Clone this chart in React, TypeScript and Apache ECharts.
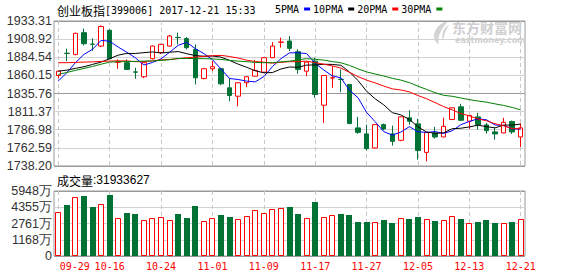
import React, { useEffect, useRef } from "react";
import * as echarts from "echarts";

// ---------- data ----------
const dates: string[] = [
  "2017-09-29",
  "2017-10-09", "2017-10-10", "2017-10-11", "2017-10-12", "2017-10-13",
  "2017-10-16", "2017-10-17", "2017-10-18", "2017-10-19", "2017-10-20",
  "2017-10-23", "2017-10-24", "2017-10-25", "2017-10-26", "2017-10-27",
  "2017-10-30", "2017-10-31",
  "2017-11-01", "2017-11-02", "2017-11-03",
  "2017-11-06", "2017-11-07", "2017-11-08", "2017-11-09", "2017-11-10",
  "2017-11-13", "2017-11-14", "2017-11-15", "2017-11-16", "2017-11-17",
  "2017-11-20", "2017-11-21", "2017-11-22", "2017-11-23", "2017-11-24",
  "2017-11-27", "2017-11-28", "2017-11-29", "2017-11-30",
  "2017-12-01",
  "2017-12-04", "2017-12-05", "2017-12-06", "2017-12-07", "2017-12-08",
  "2017-12-11", "2017-12-12", "2017-12-13", "2017-12-14", "2017-12-15",
  "2017-12-18", "2017-12-19", "2017-12-20", "2017-12-21",
];

// [open, close, low, high]
const ohlc: number[][] = [
  [1860.0, 1865.8, 1856.4, 1866.2],
  [1890.0, 1889.5, 1879.3, 1896.1],
  [1888.4, 1916.7, 1887.0, 1917.6],
  [1917.6, 1902.8, 1900.5, 1923.1],
  [1902.3, 1901.9, 1893.0, 1910.0],
  [1899.6, 1925.8, 1898.2, 1927.5],
  [1920.8, 1882.6, 1882.0, 1922.1],
  [1877.8, 1878.0, 1869.1, 1881.6],
  [1877.2, 1868.2, 1867.5, 1881.6],
  [1864.8, 1864.5, 1855.6, 1870.4],
  [1858.3, 1877.2, 1856.4, 1877.6],
  [1882.6, 1899.6, 1881.6, 1900.2],
  [1890.7, 1901.9, 1889.0, 1902.5],
  [1899.6, 1913.1, 1899.0, 1914.5],
  [1911.2, 1910.9, 1901.9, 1917.7],
  [1909.6, 1897.4, 1895.1, 1911.7],
  [1895.1, 1856.9, 1847.9, 1901.9],
  [1856.0, 1869.1, 1854.6, 1869.5],
  [1869.1, 1871.8, 1865.8, 1879.3],
  [1869.1, 1848.8, 1847.0, 1870.0],
  [1843.4, 1833.1, 1825.4, 1856.9],
  [1832.1, 1850.2, 1818.6, 1850.6],
  [1850.2, 1858.3, 1844.3, 1858.7],
  [1859.1, 1866.8, 1858.5, 1880.6],
  [1864.5, 1883.9, 1863.5, 1884.3],
  [1883.9, 1899.6, 1883.5, 1905.0],
  [1904.7, 1905.0, 1897.4, 1910.9],
  [1906.3, 1896.5, 1892.8, 1913.1],
  [1892.0, 1868.1, 1862.3, 1895.1],
  [1865.8, 1878.0, 1859.1, 1878.4],
  [1879.3, 1834.4, 1830.0, 1883.9],
  [1820.0, 1860.0, 1796.2, 1860.4],
  [1856.6, 1856.9, 1843.4, 1872.6],
  [1854.9, 1854.6, 1837.5, 1868.1],
  [1847.9, 1795.3, 1794.5, 1848.5],
  [1789.5, 1783.5, 1781.4, 1804.3],
  [1781.4, 1761.5, 1759.2, 1793.9],
  [1762.5, 1793.9, 1761.8, 1794.6],
  [1793.9, 1788.1, 1786.2, 1795.3],
  [1781.4, 1771.4, 1765.6, 1792.6],
  [1772.8, 1804.3, 1771.5, 1805.0],
  [1803.0, 1798.4, 1793.9, 1813.2],
  [1794.9, 1759.2, 1746.7, 1801.6],
  [1756.5, 1783.5, 1744.4, 1784.0],
  [1782.7, 1777.3, 1775.0, 1790.8],
  [1777.3, 1791.6, 1776.8, 1803.0],
  [1800.7, 1816.5, 1800.2, 1817.0],
  [1817.8, 1799.7, 1799.3, 1821.9],
  [1798.4, 1806.1, 1788.1, 1806.6],
  [1804.3, 1793.9, 1787.2, 1809.7],
  [1793.5, 1785.8, 1781.8, 1796.2],
  [1784.1, 1781.4, 1773.7, 1789.5],
  [1782.7, 1797.0, 1782.3, 1803.0],
  [1798.0, 1784.1, 1781.4, 1799.3],
  [1777.3, 1789.5, 1763.9, 1795.3],
];

// volume, in 万
const volumes: number[] = [
  3896, 4623, 5390, 5420, 4424, 4693, 5520, 3299, 3827, 3727,
  3099, 3299, 3398, 3099, 3727, 3329, 4524, 3000, 3299, 3627,
  3428, 3199, 3528, 4095, 3797, 4195, 4295, 4424, 3727, 3299,
  4823, 3398, 3627, 3727, 3627, 2930, 2930, 2900, 3129, 2831,
  3299, 3229, 3428, 3199, 3030, 3099, 3528, 3229, 2801, 2930,
  3129, 2831, 2831, 2930, 3193,
];

const ma5: number[] = [
  1852.6, 1863.7, 1877.2, 1888.4, 1895.3, 1907.3, 1906.0, 1898.2, 1891.3, 1883.8,
  1874.1, 1877.5, 1882.3, 1891.3, 1900.5, 1904.6, 1896.0, 1889.5, 1881.2, 1868.8,
  1855.9, 1854.6, 1852.4, 1851.4, 1858.5, 1871.8, 1882.7, 1890.4, 1890.6, 1889.4,
  1876.4, 1867.4, 1859.5, 1856.8, 1840.2, 1830.1, 1810.4, 1797.8, 1784.5, 1779.7,
  1783.8, 1791.2, 1784.3, 1783.4, 1784.5, 1782.0, 1785.6, 1793.7, 1798.2, 1801.6,
  1800.4, 1793.4, 1792.8, 1788.4, 1787.6,
];
const ma10: number[] = [
  1865.8, 1867.2, 1869.5, 1871.8, 1874.9, 1878.0, 1882.6, 1887.4, 1889.7, 1889.6,
  1890.7, 1891.7, 1890.3, 1891.3, 1892.2, 1889.3, 1886.8, 1885.9, 1886.2, 1884.7,
  1880.3, 1875.3, 1871.0, 1866.3, 1863.6, 1863.9, 1868.7, 1871.4, 1871.0, 1874.0,
  1874.1, 1875.1, 1874.9, 1873.7, 1864.8, 1853.2, 1838.9, 1828.6, 1820.6, 1810.0,
  1807.0, 1800.8, 1791.0, 1783.9, 1782.1, 1782.9, 1788.4, 1789.0, 1790.8, 1793.1,
  1791.2, 1789.5, 1793.3, 1793.3, 1794.6,
];
const ma20: number[] = [
  1877.2, 1877.2, 1877.6, 1878.0, 1878.3, 1879.0, 1879.4, 1879.6, 1879.6, 1878.6,
  1878.6, 1879.7, 1881.0, 1881.6, 1882.6, 1883.9, 1884.7, 1885.7, 1886.6, 1887.1,
  1885.5, 1883.5, 1880.6, 1878.8, 1877.9, 1876.6, 1877.7, 1878.6, 1878.6, 1879.3,
  1877.2, 1875.2, 1872.9, 1870.0, 1864.2, 1858.5, 1853.8, 1850.0, 1845.8, 1842.0,
  1840.5, 1837.9, 1833.0, 1828.8, 1823.5, 1818.1, 1813.7, 1808.8, 1805.7, 1801.5,
  1799.1, 1795.1, 1792.2, 1788.6, 1788.3,
];
const ma30: number[] = [
  1861.4, 1864.1, 1866.8, 1869.5, 1872.2, 1875.2, 1878.0, 1878.6, 1878.6, 1879.0,
  1879.3, 1879.6, 1880.3, 1881.2, 1882.9, 1882.9, 1882.7, 1882.6, 1882.3, 1881.6,
  1880.3, 1879.3, 1878.6, 1877.6, 1877.2, 1877.2, 1878.3, 1879.3, 1881.0, 1882.7,
  1881.7, 1880.7, 1878.7, 1877.1, 1873.6, 1868.8, 1864.8, 1862.0, 1859.3, 1856.2,
  1853.8, 1850.4, 1845.6, 1841.3, 1836.9, 1833.3, 1832.0, 1829.7, 1827.5, 1825.7,
  1824.1, 1821.8, 1819.7, 1817.0, 1813.8,
];

const priceTickLabels: string[] = [
  "1738.20", "1762.59", "1786.98", "1811.37", "1835.76",
  "1860.15", "1884.54", "1908.92", "1933.31",
];
const volTickLabels: string[] = ["0", "1168万", "2761万", "4355万", "5948万"];

const PRICE_MIN = 1738.2;
const PRICE_MAX = 1933.31;
const VOL_MIN = -425;
const VOL_MAX = 5948;

const titleName = "创业板指";
const titleRest = "[399006] 2017-12-21 15:33";
const volTitle = "成交量";
const volTotal = ":31933627";
const maNames = ["5PMA", "10PMA", "20PMA", "30PMA"];

// ---------- styles ----------
const RED = "#ff0000";
const GREEN = "#007235";
const MONO = "DejaVu Sans Mono";
const SANS = "Liberation Sans";
const CJK = "Noto Sans CJK SC";
const LIGHT = "#d2d2d2";
const DARK = "#999999";

const LOGO_PATH =
  "M17,0 C8,3 2,9 2,16 C2,20 4,23 7,24 C5,18 8,10 17,0 Z M11,12 C12,8 15,6 17,5 C14,10 12,14 11,21 C10,18 10,15 11,12 Z";

export default function App() {
  const ref = useRef<HTMLDivElement>(null);

  useEffect(() => {
    if (!ref.current) return;
    try {
      echarts.graphic.registerShape(
        "emlogo",
        (echarts.graphic as any).extendPath(LOGO_PATH, {})
      );
    } catch (e) {
      // ignore
    }
    const chart = echarts.init(ref.current, undefined, { renderer: "svg" });

    const volData = volumes.map((v, i) => [i, v, ohlc[i][1] >= ohlc[i][0] ? 1 : 0]);
    const labelFmt = (value: string, index: number) => {
      const s = String(value).slice(5);
      return index === 0 ? `{first|${s}}` : s;
    };

    const xSplit = {
      show: true,
      interval: 5,
      alignWithLabel: true,
      lineStyle: { color: "#c8c8c8", type: [4, 3], width: 1 },
    };

    const option: any = {
      animation: false,
      backgroundColor: "#ffffff",
      title: [
        {
          left: 57,
          top: 4,
          padding: 0,
          text: `{cn|${titleName}}{en|${titleRest}}`,
          textStyle: {
            fontWeight: "normal",
            rich: {
              cn: { fontFamily: CJK, fontSize: 12, color: "#000", fontWeight: "normal" },
              en: { fontFamily: MONO, fontSize: 10, color: "#000", fontWeight: "normal" },
            },
          },
        },
        {
          left: 57,
          top: 174,
          padding: 0,
          text: `{cn|${volTitle}}{en|${volTotal}}`,
          textStyle: {
            fontWeight: "normal",
            rich: {
              cn: { fontFamily: CJK, fontSize: 12, color: "#000", fontWeight: "normal" },
              en: { fontFamily: SANS, fontSize: 12, color: "#000", fontWeight: "normal" },
            },
          },
        },
      ],
      legend: {
        left: 275,
        top: 4,
        padding: 0,
        align: "right",
        icon: "rect",
        itemWidth: 6,
        itemHeight: 3,
        itemGap: 3,
        selectedMode: false,
        data: maNames,
        textStyle: { fontFamily: MONO, fontSize: 10, color: "#000", padding: 0 },
      },
      grid: [
        {
          left: 54, right: 53, top: 21, height: 145,
          show: true, borderColor: DARK, borderWidth: 1,
          outerBoundsMode: "none",
        },
        {
          left: 54, right: 53, top: 191, height: 65,
          show: true, borderColor: DARK, borderWidth: 1,
          outerBoundsMode: "none",
        },
      ],
      xAxis: [
        {
          type: "category", gridIndex: 0, data: dates, boundaryGap: true,
          axisLine: { show: false }, axisTick: { show: false },
          axisLabel: { show: false }, splitLine: xSplit,
        },
        {
          type: "category", gridIndex: 1, data: dates, boundaryGap: true,
          axisLine: { show: false }, axisTick: { show: false },
          axisLabel: {
            show: true, interval: 5, margin: 5, color: RED,
            fontFamily: MONO, fontSize: 10, formatter: labelFmt,
            rich: {
              first: { padding: [0, 0, 0, 33], color: RED, fontFamily: MONO, fontSize: 10 },
            },
          },
          splitLine: xSplit,
        },
      ],
      yAxis: [
        {
          type: "value", gridIndex: 0, min: PRICE_MIN, max: PRICE_MAX,
          interval: (PRICE_MAX - PRICE_MIN) / 8,
          axisLine: { show: false }, axisTick: { show: false },
          axisLabel: {
            margin: 2, color: "#333", fontFamily: SANS, fontSize: 12.5,
            showMinLabel: true, showMaxLabel: true,
            formatter: (_v: number, i: number) => priceTickLabels[i] ?? "",
          },
          splitLine: {
            show: true,
            lineStyle: {
              width: 1,
              color: [DARK, LIGHT, LIGHT, LIGHT, DARK, LIGHT, LIGHT, LIGHT, DARK],
            },
          },
        },
        {
          type: "value", gridIndex: 1, min: VOL_MIN, max: VOL_MAX,
          interval: (VOL_MAX - VOL_MIN) / 4,
          axisLine: { show: false }, axisTick: { show: false },
          axisLabel: {
            margin: 2, color: "#333", fontFamily: SANS, fontSize: 12.5,
            showMinLabel: true, showMaxLabel: true,
            formatter: (_v: number, i: number) => volTickLabels[i] ?? "",
          },
          splitLine: {
            show: true,
            lineStyle: { width: 1, color: [DARK, LIGHT, LIGHT, LIGHT, DARK] },
          },
        },
      ],
      graphic: [
        {
          type: "emlogo", x: 432, y: 20, scaleX: 1, scaleY: 1, z: 0,
          style: { fill: "#d4d4d4" },
        },
        {
          type: "text", x: 452, y: 20, z: 0,
          style: {
            text: "东方财富网", fill: "#cfcfcf",
            font: `bold 14px "${CJK}"`,
          },
        },
        {
          type: "text", x: 455, y: 36, z: 0,
          style: {
            text: "eastmoney.com", fill: "#cfcfcf",
            font: `bold 8px "DejaVu Sans"`,
          },
        },
      ],
      series: [
        {
          type: "candlestick", name: "K", xAxisIndex: 0, yAxisIndex: 0,
          data: ohlc.map((d) => [d[0], d[1], d[2], d[3]]),
          barWidth: 5, z: 2,
          itemStyle: {
            color: "#ffffff", color0: GREEN,
            borderColor: RED, borderColor0: GREEN, borderWidth: 1,
          },
        },
        {
          type: "line", name: maNames[0], xAxisIndex: 0, yAxisIndex: 0, data: ma5,
          symbol: "none", z: 3, color: "#0000ff",
          lineStyle: { width: 1, color: "#0000ff" }, itemStyle: { color: "#0000ff" },
        },
        {
          type: "line", name: maNames[1], xAxisIndex: 0, yAxisIndex: 0, data: ma10,
          symbol: "none", z: 3, color: "#000000",
          lineStyle: { width: 1, color: "#000000" }, itemStyle: { color: "#000000" },
        },
        {
          type: "line", name: maNames[2], xAxisIndex: 0, yAxisIndex: 0, data: ma20,
          symbol: "none", z: 3, color: RED,
          lineStyle: { width: 1, color: RED }, itemStyle: { color: RED },
        },
        {
          type: "line", name: maNames[3], xAxisIndex: 0, yAxisIndex: 0, data: ma30,
          symbol: "none", z: 3, color: "#008000",
          lineStyle: { width: 1, color: "#008000" }, itemStyle: { color: "#008000" },
        },
        {
          type: "custom", name: "VOL", xAxisIndex: 1, yAxisIndex: 1,
          data: volData, encode: { x: 0, y: 1 }, z: 2,
          renderItem: (_params: any, api: any) => {
            const idx = api.value(0);
            const v = api.value(1);
            const up = api.value(2) === 1;
            const top = api.coord([idx, v]);
            const bottom = api.coord([idx, VOL_MIN]);
            const w = 6;
            const left = Math.round(top[0] - w / 2);
            const t = Math.round(top[1]);
            const b = Math.round(bottom[1]);
            if (up) {
              return {
                type: "rect",
                shape: { x: left + 0.5, y: t + 0.5, width: w - 1, height: b - t - 1 },
                style: { fill: "#ffffff", stroke: RED, lineWidth: 1 },
              };
            }
            return {
              type: "rect",
              shape: { x: left, y: t, width: w, height: b - t },
              style: { fill: GREEN },
            };
          },
        },
      ],
    };

    chart.setOption(option);
    return () => chart.dispose();
  }, []);

  return (
    <div
      ref={ref}
      style={{ position: "fixed", left: 0, top: 0, width: 578, height: 276, background: "#fff" }}
    />
  );
}
